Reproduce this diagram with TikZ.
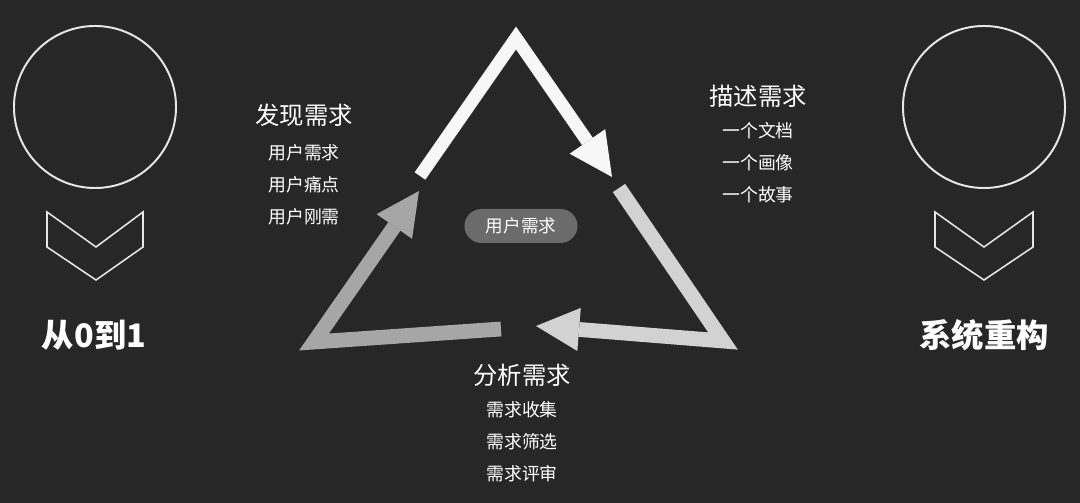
\documentclass[tikz,border=0pt]{standalone}
\usepackage{fontspec}
\setmainfont{Noto Sans CJK SC}
\usetikzlibrary{arrows.meta}
\definecolor{bgdark}{HTML}{272727}
\definecolor{armtop}{HTML}{F7F7F7}
\definecolor{armright}{HTML}{D2D2D2}
\definecolor{armleft}{HTML}{A6A6A6}
\definecolor{pillgray}{HTML}{6B6B6B}
\definecolor{lineclr}{HTML}{E6E6E6}
\begin{document}
\begin{tikzpicture}[x=0.025cm,y=-0.025cm]
	\tikzset{arm/.style={line width=0.37cm, -{Triangle[length=1.08cm,width=1.08cm,line width=0pt]}},
		head/.style={text=white, font=\fontsize{17.3}{20}\selectfont},
		item/.style={text=white, font=\fontsize{12.7}{14}\selectfont},
		title/.style={text=white, font=\bfseries\fontsize{23}{26}\selectfont},
		ring/.style={circle, draw=lineclr, line width=1.4pt, minimum size=4.05cm, inner sep=0pt},
		vee/.style={draw=lineclr, line width=1.1pt}}
	\fill[bgdark] (0,0) rectangle (1080,503);
	\useasboundingbox (0,0) rectangle (1080,503);
	\node[ring] (ringL) at (95,107)  {};
	\node[ring] (ringR) at (984,107) {};
	\draw[vee] (47,212) -- (96,247) -- (143,212) -- (143,247) -- (96,280) -- (47,247) -- cycle;
	\draw[vee] (935,212) -- (984,247) -- (1033,212) -- (1033,247) -- (984,280) -- (935,247) -- cycle;
	\node[title] (zero)  at (94,335)  {从0到1};
	\node[title] (rebuild) at (984,335) {系统重构};
	\coordinate (t1)   at (420,176);
	\coordinate (apex) at (516,38);
	\coordinate (t2)   at (612,177);
	\coordinate (r1)   at (619,188);
	\coordinate (rc)   at (723,341);
	\coordinate (r2)   at (536,326);
	\coordinate (l1)   at (501,329);
	\coordinate (lc)   at (314,342);
	\coordinate (l2)   at (419,191);
	\draw[arm, armtop, line width=0.325cm] (t1) -- (apex) -- (t2);
	\draw[arm, armright] (r1) -- (rc) -- (r2);
	\draw[arm, armleft] (l1) -- (lc) -- (l2);
	\node[item, fill=pillgray, rounded corners=0.425cm, minimum width=2.825cm, minimum height=0.85cm,
		font=\fontsize{12.5}{14}\selectfont] (core) at (521,226) {用户需求};
	\node[head] (find) at (304,115) {发现需求};
	\node[item] (find1) at (304,153) {用户需求};
	\node[item] (find2) at (304,185) {用户痛点};
	\node[item] (find3) at (304,217) {用户刚需};
	\node[head] (desc) at (758,96) {描述需求};
	\node[item] (desc1) at (758,131) {一个文档};
	\node[item] (desc2) at (758,163) {一个画像};
	\node[item] (desc3) at (758,195) {一个故事};
	\node[head] (anal) at (522,375) {分析需求};
	\node[item] (anal1) at (522,410) {需求收集};
	\node[item] (anal2) at (522,442) {需求筛选};
	\node[item] (anal3) at (522,474) {需求评审};
\end{tikzpicture}
\end{document}
